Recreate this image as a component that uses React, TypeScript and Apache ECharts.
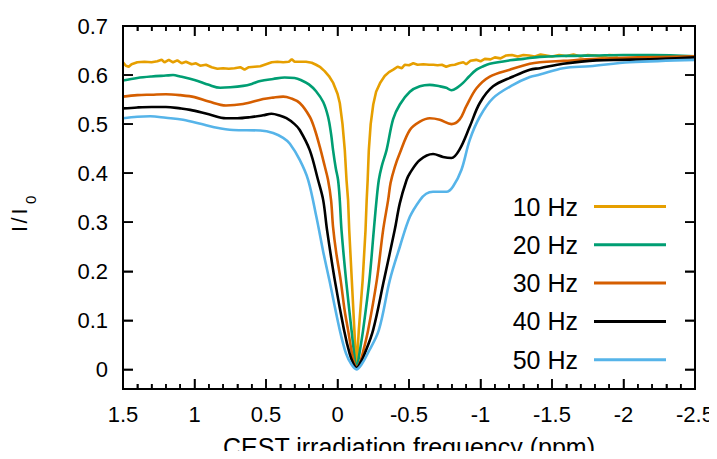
import React, { useEffect, useRef } from "react";
import * as echarts from "echarts";

const seriesNames = ["10 Hz", "20 Hz", "30 Hz", "40 Hz", "50 Hz"];
const seriesColors = ["#E69F00", "#009E73", "#D55E00", "#000000", "#56B4E9"];
const yTickValues = [0, 0.1, 0.2, 0.3, 0.4, 0.5, 0.6, 0.7];
const xMajorTicks = [-2.5, -2, -1.5, -1, -0.5, 0, 0.5, 1, 1.5];

const hz10: [number, number][] = [
  [1.5, 0.626], [1.48, 0.619], [1.46, 0.617], [1.44, 0.622], [1.4, 0.626], [1.35, 0.627], [1.3, 0.626],
  [1.26, 0.628], [1.23, 0.631], [1.21, 0.626], [1.18, 0.631], [1.15, 0.626], [1.12, 0.63], [1.09, 0.624],
  [1.06, 0.627], [1.02, 0.622], [0.99, 0.624], [0.96, 0.619], [0.92, 0.621], [0.88, 0.616], [0.84, 0.613],
  [0.8, 0.614], [0.76, 0.613], [0.72, 0.614], [0.68, 0.616], [0.65, 0.611], [0.62, 0.616], [0.58, 0.617],
  [0.54, 0.618], [0.5, 0.622], [0.46, 0.626], [0.42, 0.627], [0.38, 0.626], [0.34, 0.627], [0.32, 0.632],
  [0.3, 0.627], [0.26, 0.627], [0.22, 0.627], [0.18, 0.625], [0.15, 0.621], [0.12, 0.616], [0.09, 0.608],
  [0.06, 0.598], [0.03, 0.584], [0.0, 0.562], [-0.016, 0.543], [-0.035, 0.5], [-0.051, 0.447],
  [-0.063, 0.386], [-0.074, 0.345], [-0.082, 0.284], [-0.1, 0.182], [-0.118, 0.08], [-0.127, 0.03],
  [-0.133, 0.006], [-0.139, 0.03], [-0.149, 0.08], [-0.176, 0.182], [-0.196, 0.284], [-0.204, 0.345],
  [-0.211, 0.386], [-0.219, 0.447], [-0.232, 0.5], [-0.25, 0.54], [-0.27, 0.566], [-0.3, 0.585],
  [-0.33, 0.598], [-0.36, 0.606], [-0.39, 0.611], [-0.42, 0.617], [-0.45, 0.614], [-0.47, 0.621],
  [-0.5, 0.62], [-0.53, 0.624], [-0.56, 0.621], [-0.6, 0.622], [-0.64, 0.621], [-0.67, 0.621], [-0.7, 0.62],
  [-0.73, 0.621], [-0.76, 0.617], [-0.79, 0.62], [-0.82, 0.621], [-0.85, 0.624], [-0.88, 0.626], [-0.9, 0.622],
  [-0.93, 0.629], [-0.97, 0.631], [-1.0, 0.628], [-1.03, 0.633], [-1.07, 0.632], [-1.1, 0.636], [-1.14, 0.634],
  [-1.18, 0.64], [-1.22, 0.641], [-1.26, 0.638], [-1.3, 0.641], [-1.34, 0.64], [-1.38, 0.638], [-1.42, 0.642],
  [-1.46, 0.64], [-1.5, 0.638], [-1.55, 0.641], [-1.6, 0.639], [-1.65, 0.642], [-1.7, 0.638], [-1.75, 0.641],
  [-1.8, 0.64], [-1.85, 0.638], [-1.9, 0.641], [-1.96, 0.64],
];

const hz20: [number, number][] = [
  [1.5, 0.589], [1.4, 0.594], [1.3, 0.597], [1.2, 0.599], [1.15, 0.6], [1.1, 0.597], [1.0, 0.59], [0.9, 0.58],
  [0.82, 0.574], [0.75, 0.575], [0.66, 0.578], [0.6, 0.582], [0.54, 0.588], [0.45, 0.592], [0.37, 0.595],
  [0.3, 0.594], [0.25, 0.589], [0.2, 0.581], [0.15, 0.567], [0.1, 0.545], [0.066, 0.515], [0.045, 0.48],
  [0.031, 0.447], [0.012, 0.41], [-0.004, 0.386], [-0.016, 0.345], [-0.028, 0.284], [-0.06, 0.182],
  [-0.098, 0.08], [-0.117, 0.03], [-0.125, 0.012], [-0.133, 0.005], [-0.142, 0.012], [-0.152, 0.03],
  [-0.179, 0.08], [-0.223, 0.182], [-0.254, 0.284], [-0.273, 0.345], [-0.289, 0.386], [-0.31, 0.415],
  [-0.343, 0.447], [-0.389, 0.51], [-0.436, 0.54], [-0.506, 0.566], [-0.576, 0.577], [-0.645, 0.58],
  [-0.715, 0.577], [-0.76, 0.574], [-0.797, 0.569], [-0.84, 0.575], [-0.878, 0.584], [-0.92, 0.597],
  [-0.972, 0.611], [-1.02, 0.618], [-1.065, 0.623], [-1.205, 0.63], [-1.3, 0.633], [-1.415, 0.637],
  [-1.6, 0.639], [-1.8, 0.64], [-2.0, 0.641], [-2.2, 0.641], [-2.5, 0.638],
];

const hz30: [number, number][] = [
  [1.5, 0.556], [1.4, 0.559], [1.3, 0.56], [1.2, 0.561], [1.1, 0.559], [1.0, 0.555], [0.9, 0.546], [0.78, 0.538],
  [0.66, 0.541], [0.52, 0.551], [0.45, 0.554], [0.38, 0.556], [0.33, 0.553], [0.264, 0.543], [0.194, 0.515],
  [0.16, 0.49], [0.124, 0.454], [0.09, 0.415], [0.066, 0.386], [0.045, 0.345], [0.031, 0.29], [0.01, 0.24],
  [-0.022, 0.182], [-0.05, 0.12], [-0.074, 0.08], [-0.1, 0.035], [-0.118, 0.012], [-0.133, 0.004],
  [-0.155, 0.012], [-0.178, 0.035], [-0.214, 0.08], [-0.275, 0.182], [-0.319, 0.284], [-0.354, 0.345],
  [-0.371, 0.38], [-0.4, 0.412], [-0.436, 0.441], [-0.506, 0.488], [-0.576, 0.505], [-0.645, 0.512],
  [-0.715, 0.509], [-0.797, 0.5], [-0.853, 0.509], [-0.9, 0.536], [-0.972, 0.573], [-1.065, 0.597],
  [-1.205, 0.611], [-1.345, 0.623], [-1.415, 0.626], [-1.58, 0.629], [-1.81, 0.633], [-2.1, 0.636], [-2.5, 0.638],
];

const hz40: [number, number][] = [
  [1.5, 0.532], [1.4, 0.534], [1.3, 0.535], [1.2, 0.535], [1.1, 0.532], [1.03, 0.529], [0.9, 0.52], [0.78, 0.512],
  [0.7, 0.512], [0.613, 0.514], [0.52, 0.518], [0.462, 0.521], [0.4, 0.517], [0.357, 0.512], [0.3, 0.5],
  [0.264, 0.488], [0.194, 0.447], [0.136, 0.386], [0.1, 0.345], [0.073, 0.284], [0.019, 0.182], [-0.046, 0.08],
  [-0.085, 0.032], [-0.11, 0.012], [-0.133, 0.003], [-0.158, 0.012], [-0.19, 0.032], [-0.249, 0.08],
  [-0.325, 0.182], [-0.4, 0.284], [-0.436, 0.339], [-0.483, 0.386], [-0.506, 0.4], [-0.576, 0.427],
  [-0.668, 0.439], [-0.738, 0.433], [-0.797, 0.431], [-0.853, 0.448], [-0.925, 0.495], [-0.995, 0.543],
  [-1.088, 0.577], [-1.228, 0.597], [-1.345, 0.611], [-1.415, 0.614], [-1.578, 0.623], [-1.81, 0.63],
  [-2.0, 0.631], [-2.277, 0.633], [-2.5, 0.636],
];

const hz50: [number, number][] = [
  [1.5, 0.512], [1.4, 0.515], [1.31, 0.516], [1.2, 0.513], [1.08, 0.509], [0.95, 0.5], [0.87, 0.494], [0.73, 0.488],
  [0.54, 0.487], [0.45, 0.482], [0.38, 0.472], [0.333, 0.46], [0.264, 0.427], [0.205, 0.386], [0.147, 0.31],
  [0.1, 0.24], [0.057, 0.182], [-0.016, 0.08], [-0.06, 0.032], [-0.098, 0.01], [-0.133, 0.0], [-0.168, 0.01],
  [-0.21, 0.032], [-0.289, 0.08], [-0.366, 0.182], [-0.436, 0.25], [-0.506, 0.311], [-0.576, 0.345],
  [-0.62, 0.358], [-0.668, 0.362], [-0.762, 0.362], [-0.808, 0.373], [-0.867, 0.407], [-0.925, 0.468],
  [-0.995, 0.515], [-1.088, 0.553], [-1.228, 0.58], [-1.345, 0.596], [-1.415, 0.601], [-1.578, 0.614],
  [-1.764, 0.618], [-2.044, 0.626], [-2.5, 0.631],
];

const allData = [hz10, hz20, hz30, hz40, hz50];

const FONT = "'Liberation Sans', Arial, Helvetica, sans-serif";

function frameRenderItem(params: any, api: any) {
  const X_MIN = -2.5, X_MAX = 1.5, Y_MIN = -0.04, Y_MAX = 0.7;
  const tl = api.coord([X_MAX, Y_MAX]);
  const tr = api.coord([X_MIN, Y_MAX]);
  const bl = api.coord([X_MAX, Y_MIN]);
  const br = api.coord([X_MIN, Y_MIN]);
  const border = { stroke: "#000", lineWidth: 2 };
  const tick = { stroke: "#000", lineWidth: 1.5 };
  const children: any[] = [
    { type: "line", shape: { x1: tl[0], y1: tl[1], x2: tr[0], y2: tr[1] }, style: border },
    { type: "line", shape: { x1: tr[0], y1: tr[1], x2: br[0], y2: br[1] }, style: border },
    { type: "line", shape: { x1: bl[0], y1: bl[1], x2: br[0], y2: br[1] }, style: border },
    { type: "line", shape: { x1: tl[0], y1: tl[1], x2: bl[0], y2: bl[1] }, style: border },
  ];
  for (let m = 0; m < xMajorTicks.length; m++) {
    const v = xMajorTicks[m];
    const x = api.coord([v, Y_MIN])[0];
    children.push({ type: "line", shape: { x1: x, y1: tl[1], x2: x, y2: tl[1] + 10 }, style: tick });
    children.push({ type: "line", shape: { x1: x, y1: bl[1], x2: x, y2: bl[1] - 10 }, style: tick });
    if (m < xMajorTicks.length - 1) {
      const step = (xMajorTicks[m + 1] - v) / 5;
      for (let k = 1; k < 5; k++) {
        const mx = api.coord([v + step * k, Y_MIN])[0];
        children.push({ type: "line", shape: { x1: mx, y1: tl[1], x2: mx, y2: tl[1] + 5 }, style: tick });
        children.push({ type: "line", shape: { x1: mx, y1: bl[1], x2: mx, y2: bl[1] - 5 }, style: tick });
      }
    }
  }
  for (const v of yTickValues) {
    const y = api.coord([X_MIN, v])[1];
    children.push({ type: "line", shape: { x1: tr[0] - 10, y1: y, x2: tr[0], y2: y }, style: tick });
    children.push({ type: "line", shape: { x1: tl[0], y1: y, x2: tl[0] + 10, y2: y }, style: tick });
  }
  return { type: "group", children };
}

export default function App() {
  const ref = useRef<HTMLDivElement>(null);

  useEffect(() => {
    if (!ref.current) return;
    const chart = echarts.init(ref.current, undefined, { renderer: "svg" });
    const axisLine = { show: true, onZero: false, lineStyle: { color: "#000", width: 2 } };
    const xBase = {
      type: "value",
      min: -2.5,
      max: 1.5,
      interval: 0.5,
      inverse: true,
      axisLine,
      splitLine: { show: false },
      axisTick: { show: true, inside: true, length: 10, lineStyle: { color: "#000", width: 1.5 } },
      minorTick: { show: true, splitNumber: 5, length: 5, lineStyle: { color: "#000", width: 1.5 } },
    };
    const yBase = {
      type: "value",
      min: -0.04,
      max: 0.7,
      axisLine,
      splitLine: { show: false },
      axisTick: {
        show: true,
        inside: true,
        length: 10,
        customValues: yTickValues,
        lineStyle: { color: "#000", width: 1.5 },
      },
    };
    const labelFont = (size: number) => `${size}px ${FONT}`;
    const lines = allData.map((d, i) => ({
      name: seriesNames[i],
      type: "line",
      data: d,
      xAxisIndex: 0,
      yAxisIndex: 0,
      symbol: "none",
      showSymbol: false,
      smooth: i === 0 ? false : 0.35,
      color: seriesColors[i],
      lineStyle: { color: seriesColors[i], width: 2.6 },
      itemStyle: { color: seriesColors[i] },
    }));
    chart.setOption({
      animation: false,
      backgroundColor: "#fff",
      textStyle: { fontFamily: FONT },
      grid: {
        left: 123,
        right: 22,
        top: 26,
        bottom: 70,
        show: true,
        borderColor: "#000",
        borderWidth: 2,
        backgroundColor: "transparent",
        outerBoundsMode: "none",
        containLabel: false,
      },
      xAxis: [
        {
          ...xBase,
          position: "bottom",
          name: "CEST irradiation frequency (ppm)",
          nameLocation: "middle",
          nameGap: 45,
          nameTextStyle: { fontSize: 25, color: "#000", fontFamily: FONT },
          axisLabel: {
            show: true,
            margin: 14,
            fontSize: 22,
            color: "#000",
            fontFamily: FONT,
            formatter: (v: number) => String(v),
          },
        },
        {
          ...xBase,
          position: "top",
          axisLabel: { show: false },
        },
      ],
      yAxis: [
        {
          ...yBase,
          position: "left",
          axisLabel: {
            show: true,
            margin: 15,
            fontSize: 22,
            color: "#000",
            fontFamily: FONT,
            customValues: yTickValues,
            formatter: (v: number) => String(Math.round(v * 10) / 10),
          },
        },
        {
          ...yBase,
          position: "right",
          axisLabel: { show: false },
        },
      ],
      legend: {
        orient: "vertical",
        right: 46,
        top: 189,
        align: "right",
        icon: "rect",
        itemWidth: 72,
        itemHeight: 3,
        itemGap: 13.3,
        data: seriesNames,
        textStyle: {
          fontSize: 25,
          color: "#000",
          fontFamily: FONT,
          lineHeight: 25,
          padding: [0, 11, 0, 0],
        },
      },
      graphic: [
        {
          type: "group",
          x: 19,
          y: 232,
          rotation: Math.PI / 2,
          children: [
            { type: "text", x: 0, y: 0, style: { text: "I", font: labelFont(22), fill: "#000", verticalAlign: "middle" } },
            { type: "text", x: 8.5, y: 0, style: { text: "/", font: labelFont(22), fill: "#000", verticalAlign: "middle" } },
            { type: "text", x: 17.5, y: 0, style: { text: "I", font: labelFont(22), fill: "#000", verticalAlign: "middle" } },
            { type: "text", x: 28, y: 11, style: { text: "0", font: labelFont(15), fill: "#000", verticalAlign: "middle" } },
          ],
        },
      ],
      series: [
        ...lines,
        {
          type: "line",
          name: "frame",
          xAxisIndex: 1,
          yAxisIndex: 1,
          data: [],
          symbol: "none",
          silent: true,
        },
        {
          type: "custom",
          name: "border",
          xAxisIndex: 0,
          yAxisIndex: 0,
          silent: true,
          clip: false,
          z: 5,
          data: [[0, 0]],
          renderItem: frameRenderItem,
        },
      ],
    });
    return () => chart.dispose();
  }, []);

  return <div ref={ref} style={{ width: 717, height: 459, margin: -8 }} />;
}
